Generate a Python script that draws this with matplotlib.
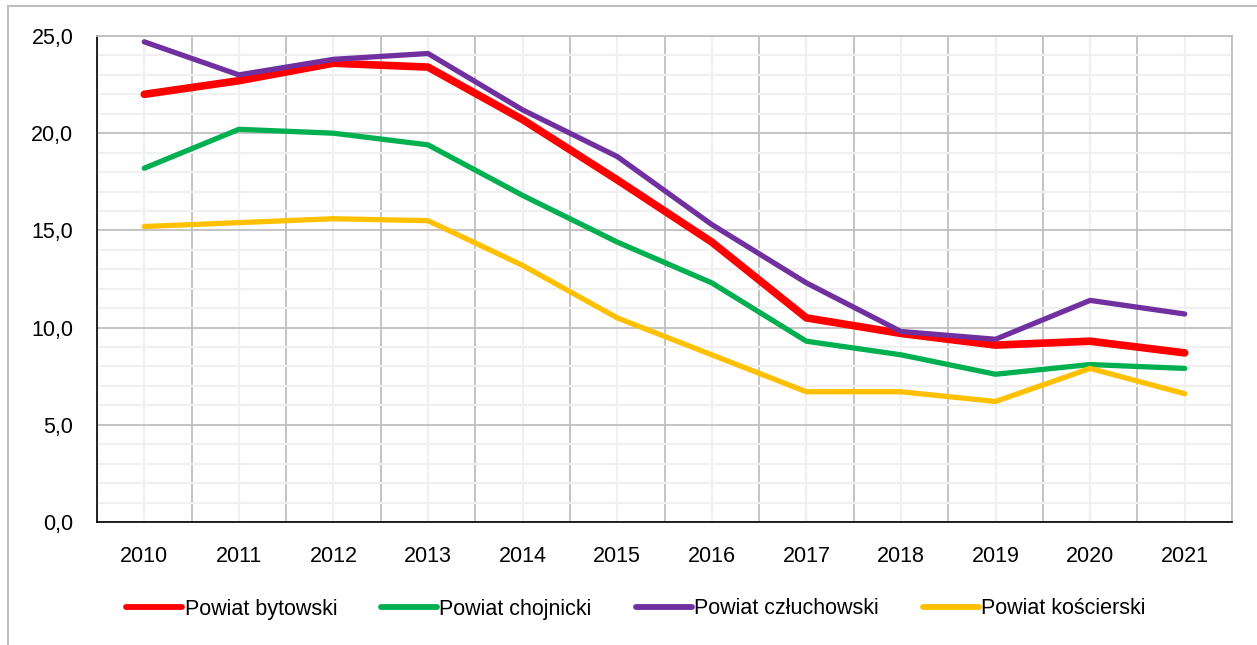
import matplotlib
matplotlib.use('Agg')
import matplotlib.pyplot as plt
from matplotlib.lines import Line2D
from matplotlib.ticker import FuncFormatter, MultipleLocator

plt.rcParams['font.family'] = ['Liberation Sans', 'DejaVu Sans']

years = ['2010', '2011', '2012', '2013', '2014', '2015', '2016', '2017', '2018', '2019', '2020', '2021']
bytowski = [22.0, 22.7, 23.6, 23.4, 20.7, 17.6, 14.4, 10.5, 9.7, 9.1, 9.3, 8.7]
chojnicki = [18.2, 20.2, 20.0, 19.4, 16.8, 14.4, 12.3, 9.3, 8.6, 7.6, 8.1, 7.9]
czluchowski = [24.7, 23.0, 23.8, 24.1, 21.2, 18.8, 15.3, 12.3, 9.8, 9.4, 11.4, 10.7]
koscierski = [15.2, 15.4, 15.6, 15.5, 13.2, 10.5, 8.6, 6.7, 6.7, 6.2, 7.9, 6.6]

series = [
    ('Powiat bytowski', bytowski, '#FF0000', 5.5),
    ('Powiat chojnicki', chojnicki, '#00B050', 3.8),
    ('Powiat człuchowski', czluchowski, '#7030A0', 3.8),
    ('Powiat kościerski', koscierski, '#FFC000', 3.8),
]

W, H = 1257, 645
fig = plt.figure(figsize=(W / 100, H / 100), dpi=100)
ax = fig.add_axes([97 / W, 1 - 522 / H, (1232 - 97) / W, (522 - 36) / H])

x = list(range(len(years)))
handles = []
for (name, vals, col, lw) in series:
    ax.plot(x, vals, color=col, lw=lw, solid_capstyle='round', solid_joinstyle='round', label=name, zorder=3)
    handles.append(Line2D([], [], color=col, lw=4.2, solid_capstyle='round', label=name))

ax.set_xlim(-0.5, len(years) - 0.5)
ax.set_ylim(0, 25)
ax.set_xticks(x)
ax.set_xticklabels(years)
ax.set_xticks([i - 0.5 for i in range(len(years) + 1)], minor=True)
ax.yaxis.set_major_locator(MultipleLocator(5))
ax.yaxis.set_minor_locator(MultipleLocator(1))
ax.yaxis.set_major_formatter(FuncFormatter(lambda v, _: f'{v:.1f}'.replace('.', ',')))

# Excel-like grid: darker at category borders / every 5, light in between
ax.grid(which='minor', axis='x', color='#BFBFBF', lw=1.3)
ax.grid(which='major', axis='x', color='#F0F0F0', lw=1.6)
ax.grid(which='major', axis='y', color='#BFBFBF', lw=1.3)
ax.grid(which='minor', axis='y', color='#F0F0F0', lw=1.6)
ax.set_axisbelow(True)

ax.tick_params(which='both', length=0)
ax.tick_params(axis='y', labelsize=15.5, pad=17)
ax.tick_params(axis='x', labelsize=15.5, pad=17)

for s in ('left', 'bottom'):
    ax.spines[s].set_color('black')
    ax.spines[s].set_linewidth(1.2)
for s in ('top', 'right'):
    ax.spines[s].set_color('#BFBFBF')
    ax.spines[s].set_linewidth(1.3)

fig.legend(handles=handles, loc='center', bbox_to_anchor=(636 / W, 1 - 609 / H), ncol=4,
           frameon=False, fontsize=15.5, handlelength=2.6, handletextpad=0.1, columnspacing=2.05)

# outer chart border (top and left edges)
fig.add_artist(Line2D([8 / W, 8 / W], [0, 1 - 6 / H], color='#BFBFBF', lw=1.5, transform=fig.transFigure))
fig.add_artist(Line2D([8 / W, 1], [1 - 6 / H, 1 - 6 / H], color='#BFBFBF', lw=1.5, transform=fig.transFigure))

fig.savefig('out.png', dpi=100)
